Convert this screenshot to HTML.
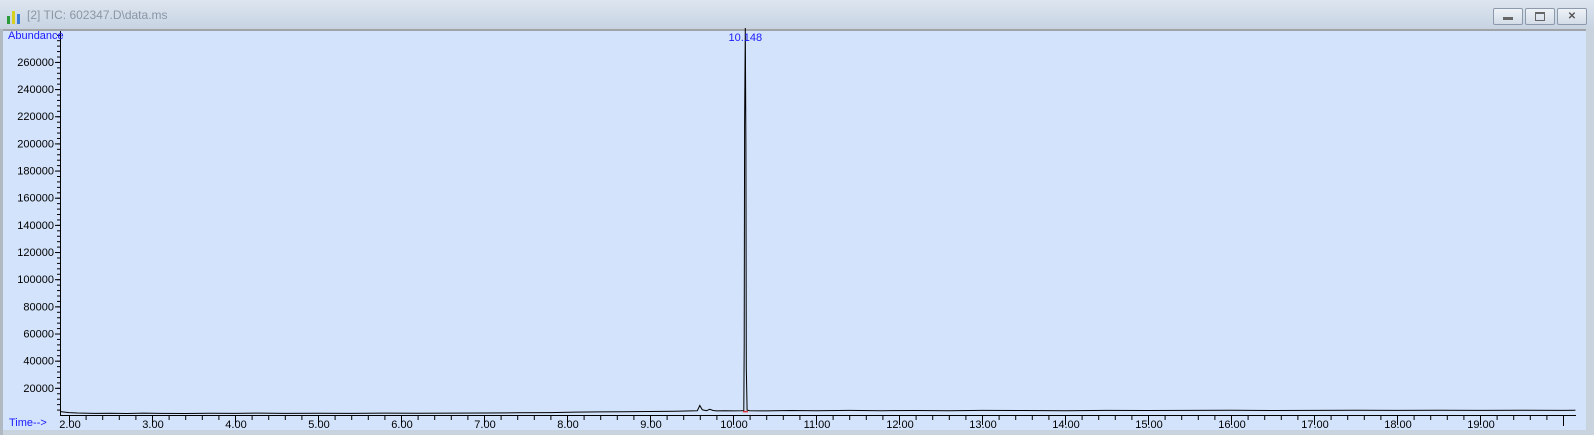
<!DOCTYPE html>
<html><head><meta charset="utf-8"><style>
body{margin:0;width:1594px;height:435px;overflow:hidden;background:#c9d3de;font-family:"Liberation Sans",sans-serif}
#title{position:absolute;left:0;top:0;width:1594px;height:28px;background:linear-gradient(#dde6f0,#c8d4e2)}
#title span.t{position:absolute;left:27px;top:8px;font-size:12px;color:#8a96a4}
.btn{position:absolute;top:8px;width:28px;height:15px;border:1px solid #8d9aab;border-radius:2px;background:linear-gradient(#eef2f7,#d3dce8);text-align:center;font-size:10px;line-height:15px;color:#555}
svg{position:absolute;left:0;top:0}
</style></head><body>
<div id="title">
<svg width="20" height="20" style="left:5px;top:6px"><rect x="2" y="10" width="3" height="8" fill="#2a9a3a"/><rect x="7" y="5" width="3" height="13" fill="#d8d020"/><rect x="12" y="8" width="3" height="10" fill="#3a7ad8"/></svg>
<span class="t">[2] TIC: 602347.D\data.ms</span>
<div class="btn" style="left:1493px"><div style="margin:8px auto 0;width:10px;height:3px;background:#666"></div></div>
<div class="btn" style="left:1525px"><div style="margin:3px auto 0;width:8px;height:6px;border:1px solid #666;border-top-width:2px"></div></div>
<div class="btn" style="left:1557px;font-weight:bold">✕</div>
</div>
<svg id="chart" width="1594" height="435" style="top:0"></svg>
<script>
const xTicks=[2,3,4,5,6,7,8,9,10,11,12,13,14,15,16,17,18,19];
const yTicks=[20000,40000,60000,80000,100000,120000,140000,160000,180000,200000,220000,240000,260000];
const times=[1.9,2.0,2.1,2.3,2.5,2.7,2.9,3.1,3.4,3.7,4.0,4.3,4.6,5.0,5.4,5.8,6.2,6.6,7.0,7.4,7.8,8.1,8.4,8.7,9.0,9.3,9.5,9.57,9.6,9.63,9.68,9.72,9.76,9.8,9.9,10.0,10.1,10.13,10.135,10.14,10.148,10.155,10.16,10.17,10.2,10.4,10.7,11.0,11.4,11.8,12.2,12.6,13.0,13.5,14.0,14.5,15.0,15.5,16.0,16.5,17.0,17.5,18.0,18.5,19.0,19.5,20.0,20.15];
const abund=[2500,1800,1500,1200,1300,1100,1400,1200,1100,1300,1200,1400,1200,1300,1200,1400,1300,1400,1500,1600,1800,2100,2300,2400,2600,2700,3000,3200,7000,3800,3200,4200,3300,3000,3100,3000,3100,3200,52000,215000,285000,200000,35000,3600,3200,3000,3300,3100,3400,3200,3300,3200,3400,3300,3200,3400,3300,3400,3500,3300,3400,3500,3400,3500,3400,3500,3400,3500];
const peakLabel="10.148";
const NS="http://www.w3.org/2000/svg";
const svg=document.getElementById('chart');
const X=t=>69+(t-2)*83, Y=v=>415-v*0.001358;
function mk(tag,attrs,txt){const e=document.createElementNS(NS,tag);for(const k in attrs)e.setAttribute(k,attrs[k]);if(txt!==undefined)e.textContent=txt;svg.appendChild(e);return e;}
let bg=mk('rect',{x:3,y:29,width:1583,height:401,fill:'#d3e3fb'});


mk('rect',{x:3,y:29,width:1583,height:2,fill:'#a0a4a8'});
mk('rect',{x:1586,y:29,width:8,height:406,fill:'#c9d3de'});
mk('rect',{x:0,y:430,width:1594,height:5,fill:'#c9d3de'});
mk('rect',{x:0,y:29,width:3,height:406,fill:'#b0b8c2'});
let ya=mk('line',{x1:60.5,y1:31,x2:60.5,y2:416,stroke:'#000'});


let xa=mk('line',{x1:60,y1:415.5,x2:1576,y2:415.5,stroke:'#000'});


for(let v=4000;v<=280000;v+=4000){mk('line',{x1:57,y1:Y(v)+.5,x2:60,y2:Y(v)+.5,stroke:'#000'});}
yTicks.forEach(v=>{mk('line',{x1:55,y1:Y(v)+.5,x2:60,y2:Y(v)+.5,stroke:'#000'});
let t=mk('text',{x:54,y:Y(v)+4,'text-anchor':'end','font-size':11,fill:'#000'},String(v));

});
for(let t=2;t<=20.01;t+=0.2){mk('line',{x1:X(t)+.5,y1:416,x2:X(t)+.5,y2:420,stroke:'#000'});}
xTicks.forEach(v=>{mk('line',{x1:X(v)+.5,y1:416,x2:X(v)+.5,y2:425,stroke:'#000'});
let t=mk('text',{x:X(v)+1,y:428,'text-anchor':'middle','font-size':11,fill:'#000'},v.toFixed(2));

});
mk('line',{x1:X(20)+.5,y1:416,x2:X(20)+.5,y2:426,stroke:'#000'});
let yt=mk('text',{x:8,y:39,'font-size':11,fill:'#1a1aff'},'Abundance');


let xt=mk('text',{x:9,y:426,'font-size':11,fill:'#1a1aff'},'Time-->');


let d=times.map((t,i)=>(i?'L':'M')+X(t).toFixed(1)+','+Y(abund[i]).toFixed(1)).join(' ');
let line=mk('path',{d:d,fill:'none',stroke:'#000','stroke-width':1});


let ip=abund.indexOf(Math.max(...abund));
let pl=mk('text',{x:X(times[ip]),y:41,'text-anchor':'middle','font-size':11,fill:'#1a1aff'},peakLabel);


mk('line',{x1:X(10.12),y1:Y(2500),x2:X(10.18),y2:Y(2500),stroke:'#e03030','stroke-width':1.5});
</script>
</body></html>
